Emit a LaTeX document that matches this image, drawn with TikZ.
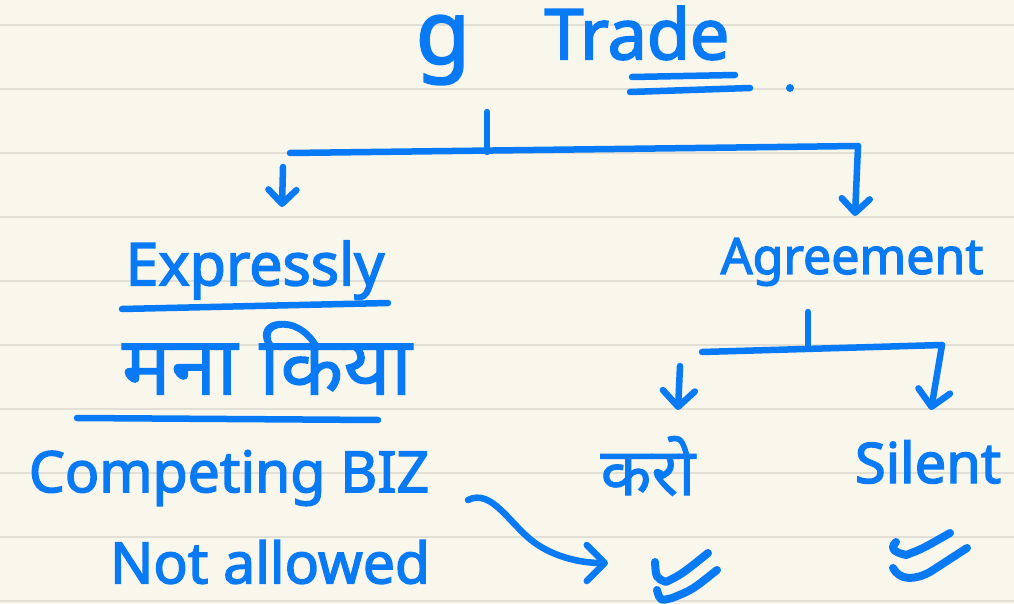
\documentclass[tikz,border=0pt]{standalone}
\usepackage{fontspec}
\setmainfont{Noto Sans}
\newfontfamily\latinink{Noto Sans}[FakeBold=2.5]
\newfontfamily\deva{Noto Sans}[Script=Devanagari, FakeBold=1.2]
\usetikzlibrary{arrows.meta}
\definecolor{paper}{RGB}{249,246,235}
\definecolor{ruling}{RGB}{226,223,214}
\definecolor{ink}{RGB}{8,122,246}
\begin{document}
\begin{tikzpicture}[x=1pt,y=-1pt,
  pen/.style={draw=ink, line width=6.5pt, line cap=round, line join=round},
  hand/.style={text=ink, inner sep=0pt, font=\latinink\bfseries\fontsize{#1}{#1}\selectfont},
  hindi/.style={text=ink, inner sep=0pt, font=\deva\bfseries\fontsize{#1}{#1}\selectfont},
  tip/.style={-{Straight Barb[round, length=#1, width=2*#1]}},
  tip/.default=14pt]
  % paper and ruling
  \fill[paper] (0,0) rectangle (1014,604);
  \useasboundingbox (0,0) rectangle (1014,604);
  \foreach \y in {25,89,...,601}
    \draw[ruling, line width=2.5pt] (0,\y) -- (1014,\y);

  % heading
  \node[hand=88] (g) at (443,50) {g};
  \node[hand=70] (trade) at (637,33) {Trade};
  \draw[pen] (632,77) -- (735,75);
  \draw[pen] (630,92) -- (750,88);
  \fill[ink] (790,88) circle (4);

  % first level
  \coordinate (tStem) at (487,112);
  \coordinate (tJoin) at (487,152);
  \coordinate (tL) at (290,153);
  \coordinate (tR) at (858,146);
  \coordinate (eTop) at (283,167);
  \coordinate (eTip) at (282,207);
  \coordinate (aTip) at (855,216);
  \draw[pen] (tStem) -- (tJoin);
  \draw[pen] (tL) -- (tR);
  \draw[pen, tip] (eTop) -- (eTip);
  \draw[pen, tip] (tR) -- (aTip);

  % left branch
  \node[hand=59] (expr) at (255,270) {Expressly};
  \draw[pen] (122,309) -- (388,303);
  \node[hindi=82] (mana) at (267,358) {मना किया};
  \draw[pen] (77,418) -- (378,420);
  \node[hand=57] (comp) at (229,478) {Competing BIZ};
  \node[hand=57] (notal) at (270,562) {Not allowed};

  % right branch
  \node[hand=50] (agree) at (852,262) {Agreement};
  \coordinate (aStem) at (808,312);
  \coordinate (aJoin) at (808,348);
  \coordinate (aL) at (702,352);
  \coordinate (aR) at (942,345);
  \coordinate (kTop) at (680,366);
  \coordinate (kTip) at (678,410);
  \coordinate (sTip) at (931,410);
  \draw[pen] (aStem) -- (aJoin);
  \draw[pen] (aL) -- (aR);
  \draw[pen, tip=16pt] (kTop) -- (kTip);
  \draw[pen, tip=16pt] (aR) -- (sTip);
  \node[hindi=66] (karo) at (648,466) {करो};
  \node[hand=56] (silent) at (928,462) {Silent};

  % link from the left branch to the right
  \coordinate (cStart) at (468,500);
  \coordinate (cEnd) at (608,563);
  \draw[pen, tip=18pt] (cStart) .. controls (492,488) and (510,525) .. (535,543)
                       .. controls (555,557) and (580,563) .. (cEnd);

  % ticks
  \begin{scope}[line width=8pt]
  \draw[pen, line width=8pt] (655,562) .. controls (656,578) .. (666,582) .. controls (682,574) .. (708,553);
  \draw[pen, line width=8pt] (657,590) .. controls (660,601) .. (672,598) .. controls (692,590) .. (717,570);
  \draw[pen, line width=8pt] (896,542) .. controls (888,550) and (898,553) .. (906,555) .. controls (922,549) .. (950,533);
  \draw[pen, line width=8pt] (893,568) .. controls (900,581) and (915,580) .. (930,572) -- (967,548);
  \end{scope}
\end{tikzpicture}
\end{document}
